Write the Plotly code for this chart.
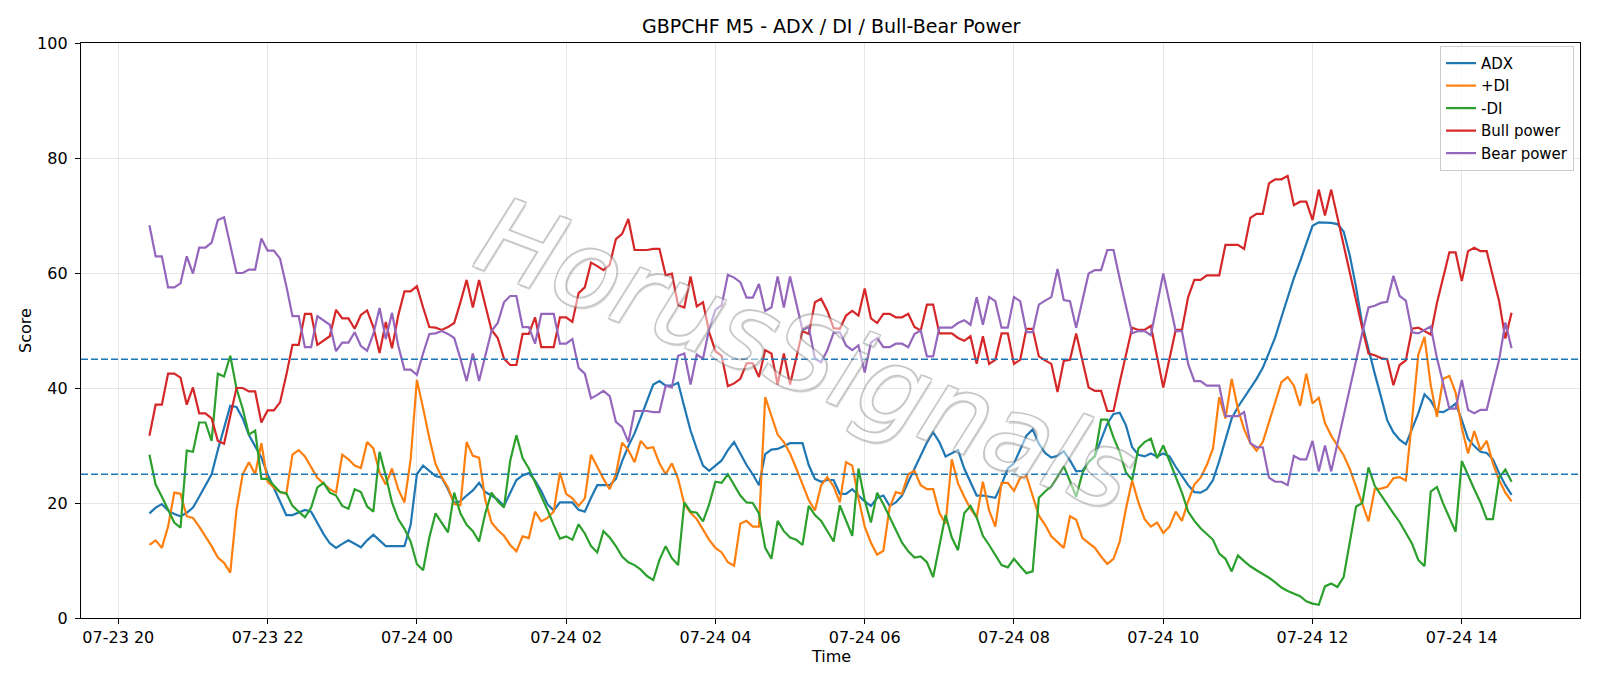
import pandas as pd
import plotly.graph_objects as go

# ---- data (5-minute bars, GBPCHF M5) ----
start_time = "2025-07-23 20:25"
n_bars = 220
times = pd.date_range(start_time, periods=n_bars, freq="5min")

adx = [
    18.2, 19.2, 19.8, 18.7, 18.1, 17.7, 18.3, 19.2, 21.1, 23.1,
    25.0, 29.2, 33.1, 36.9, 36.7, 34.7, 31.8, 29.9, 27.9, 25.0,
    22.7, 20.1, 17.9, 17.9, 18.3, 18.8, 18.5, 16.6, 14.6, 13.0,
    12.2, 12.9, 13.5, 12.9, 12.3, 13.5, 14.5, 13.5, 12.5, 12.5,
    12.5, 12.5, 16.2, 25.0, 26.5, 25.6, 24.7, 24.4, 22.4, 20.0,
    20.3, 21.3, 22.2, 23.5, 21.9, 21.3, 20.6, 19.5, 21.8, 24.0,
    24.8, 25.2, 23.9, 22.1, 19.8, 18.7, 20.1, 20.1, 20.1, 18.8,
    18.5, 20.9, 23.1, 23.1, 23.1, 24.2, 27.3, 29.9, 32.1, 34.9,
    37.8, 40.6, 41.2, 40.4, 40.4, 40.9, 36.7, 32.6, 29.4, 26.5,
    25.6, 26.5, 27.4, 29.2, 30.6, 28.6, 26.6, 25.0, 23.1, 28.5,
    29.3, 29.4, 29.9, 30.4, 30.4, 30.4, 26.6, 24.2, 23.7, 24.0,
    24.0, 21.6, 21.6, 22.4, 21.3, 20.3, 19.5, 20.9, 21.3, 19.5,
    20.1, 21.3, 23.7, 26.0, 28.4, 30.5, 32.3, 30.6, 28.1, 28.7,
    29.2, 26.0, 23.5, 21.3, 21.3, 21.1, 20.9, 23.2, 26.0, 26.9,
    29.4, 31.7, 32.8, 30.3, 28.7, 27.9, 28.2, 29.0, 27.4, 25.5,
    25.6, 27.1, 28.2, 31.0, 33.8, 35.5, 35.7, 33.5, 29.7, 28.4,
    28.1, 28.6, 28.1, 28.6, 28.1, 26.3, 24.7, 23.1, 21.9, 21.8,
    22.4, 24.0, 27.3, 30.8, 34.7, 36.7, 38.3, 39.9, 41.6, 43.5,
    46.0, 48.8, 52.3, 55.8, 59.1, 62.0, 65.3, 68.2, 68.8, 68.8,
    68.7, 68.5, 67.2, 63.0, 57.5, 51.0, 46.5, 42.5, 38.5, 34.4,
    32.3, 31.0, 30.2, 32.8, 35.6, 38.9, 37.8, 35.9, 35.8, 36.4,
    37.3, 34.4, 31.2, 29.9, 28.9, 28.7, 27.6, 25.2, 23.1, 21.4,
]

plus_di = [
    12.7, 13.5, 12.2, 15.9, 21.8, 21.6, 17.7, 17.4, 15.9, 14.3,
    12.5, 10.5, 9.6, 7.9, 18.8, 25.0, 27.1, 25.0, 30.4, 23.7,
    22.7, 21.9, 21.6, 28.4, 29.2, 28.1, 26.3, 24.4, 23.4, 22.4,
    21.8, 28.4, 27.6, 26.5, 26.1, 30.6, 29.5, 25.3, 23.2, 26.0,
    22.4, 20.1, 27.6, 41.4, 36.5, 31.3, 26.8, 24.5, 22.7, 19.8,
    19.6, 30.6, 28.2, 27.9, 20.5, 16.6, 15.3, 14.3, 12.7, 11.6,
    14.2, 13.9, 18.5, 16.8, 17.4, 18.5, 25.3, 21.6, 20.8, 19.5,
    20.8, 28.4, 26.3, 24.2, 22.4, 25.0, 30.5, 29.2, 27.1, 30.8,
    29.5, 29.7, 26.9, 25.0, 26.9, 24.2, 19.8, 18.3, 17.2, 15.5,
    13.6, 12.2, 11.4, 9.7, 9.1, 16.4, 16.9, 15.9, 15.9, 38.4,
    35.1, 31.9, 30.6, 28.6, 26.0, 23.4, 20.5, 18.7, 23.1, 24.5,
    22.9, 20.1, 27.1, 26.5, 20.8, 15.9, 13.1, 11.0, 11.7, 19.2,
    21.9, 21.6, 25.0, 25.6, 23.1, 22.4, 22.4, 18.3, 16.4, 27.6,
    23.4, 21.1, 19.0, 17.5, 23.7, 18.7, 15.9, 23.5, 23.5, 22.1,
    24.4, 24.7, 21.4, 17.8, 16.2, 14.2, 13.2, 12.2, 17.7, 17.1,
    13.9, 13.0, 12.2, 10.7, 9.4, 10.3, 13.3, 19.0, 23.9, 20.1,
    17.2, 15.9, 16.6, 14.8, 15.9, 18.5, 16.9, 20.3, 23.2, 24.4,
    26.6, 29.5, 38.4, 34.7, 41.6, 36.4, 32.8, 30.4, 29.1, 30.6,
    34.1, 37.7, 41.0, 41.9, 40.4, 36.9, 42.5, 37.3, 38.3, 33.9,
    31.7, 30.0, 28.3, 25.9, 22.9, 20.0, 16.8, 22.4, 22.5, 22.8,
    24.3, 24.5, 23.9, 34.5, 45.8, 48.9, 40.5, 35.0, 41.6, 42.1,
    39.2, 33.1, 28.6, 32.5, 29.2, 30.8, 26.9, 24.0, 21.8, 20.3,
]

minus_di = [
    28.4, 23.2, 21.1, 18.8, 16.6, 15.7, 29.1, 28.9, 34.0, 34.0,
    30.8, 42.5, 42.0, 45.6, 39.9, 36.4, 31.9, 32.6, 24.2, 24.2,
    23.1, 21.9, 21.7, 19.5, 18.5, 17.5, 19.2, 22.7, 23.5, 21.8,
    21.3, 19.5, 19.0, 22.4, 21.9, 19.4, 18.5, 28.9, 24.7, 20.1,
    17.2, 15.5, 13.3, 9.4, 8.3, 14.0, 18.2, 16.6, 14.9, 21.8,
    18.2, 16.2, 15.1, 13.3, 18.2, 21.8, 20.3, 19.2, 27.3, 31.8,
    27.8, 26.0, 23.7, 21.3, 18.8, 16.2, 13.8, 14.2, 13.6, 16.3,
    14.7, 12.5, 11.4, 15.1, 14.0, 12.5, 10.7, 9.7, 9.2, 8.4,
    7.3, 6.6, 10.1, 12.5, 10.4, 9.2, 20.1, 18.5, 18.3, 16.8,
    19.8, 23.7, 23.5, 25.0, 23.2, 21.3, 20.1, 20.0, 18.2, 12.2,
    10.3, 16.9, 15.1, 14.0, 13.6, 12.7, 19.5, 17.9, 16.9, 15.1,
    13.3, 19.6, 16.9, 14.3, 26.0, 20.5, 16.6, 21.8, 19.8, 17.5,
    15.1, 13.1, 11.6, 10.5, 10.7, 9.7, 7.1, 12.7, 17.9, 14.0,
    11.8, 18.2, 19.5, 17.5, 14.3, 12.7, 11.0, 9.2, 8.8, 10.3,
    9.0, 7.8, 8.1, 20.9, 22.0, 22.9, 24.6, 26.4, 23.8, 21.1,
    25.2, 27.2, 28.1, 34.5, 34.5, 31.4, 28.8, 25.3, 24.0, 29.5,
    30.6, 31.2, 27.8, 30.0, 27.3, 24.4, 21.8, 18.5, 16.9, 15.6,
    14.6, 13.6, 11.2, 10.3, 8.1, 10.9, 9.9, 9.0, 8.3, 7.7,
    7.0, 6.2, 5.3, 4.7, 4.2, 3.8, 2.9, 2.5, 2.3, 5.5,
    6.0, 5.4, 7.1, 13.5, 19.4, 20.0, 26.2, 23.0, 21.4, 19.6,
    18.2, 16.7, 14.9, 12.9, 10.1, 9.0, 22.0, 22.8, 19.9, 17.3,
    15.0, 27.3, 24.7, 22.4, 20.1, 17.2, 17.2, 24.4, 25.8, 23.7,
]

bull_power = [
    31.7, 37.1, 37.1, 42.5, 42.5, 41.8, 37.1, 40.1, 35.6, 35.6,
    34.7, 30.8, 30.3, 35.0, 40.0, 40.0, 39.4, 39.4, 34.0, 36.1,
    36.1, 37.5, 42.2, 47.5, 47.5, 52.9, 52.9, 47.5, 48.2, 49.0,
    53.6, 52.1, 52.1, 50.3, 52.7, 53.5, 50.6, 46.1, 51.5, 46.9,
    52.6, 56.8, 56.8, 57.7, 54.0, 50.6, 50.5, 50.1, 50.6, 51.3,
    54.9, 58.8, 54.0, 58.8, 54.4, 50.1, 48.7, 45.1, 44.0, 44.0,
    49.4, 49.4, 52.3, 47.1, 47.1, 47.1, 52.3, 52.3, 51.5, 56.5,
    57.5, 61.8, 61.2, 60.5, 61.4, 65.9, 66.8, 69.4, 64.0, 64.0,
    64.0, 64.2, 64.2, 59.6, 59.9, 54.4, 54.0, 59.4, 54.2, 54.9,
    49.7, 46.4, 45.6, 40.3, 40.8, 41.6, 44.3, 44.3, 41.9, 46.6,
    46.0, 40.6, 46.0, 40.6, 45.1, 49.9, 49.4, 54.9, 55.5, 53.4,
    50.4, 50.3, 52.6, 53.4, 52.6, 57.3, 52.1, 51.3, 52.9, 52.9,
    52.3, 52.3, 52.9, 50.6, 50.0, 54.5, 54.5, 49.5, 49.5, 49.5,
    48.7, 48.2, 49.0, 44.2, 49.0, 44.2, 44.9, 49.5, 49.5, 44.2,
    44.9, 50.3, 50.3, 45.5, 44.8, 44.2, 39.3, 44.7, 44.9, 49.5,
    44.8, 40.1, 39.5, 39.5, 36.0, 36.0, 41.0, 46.0, 50.5, 50.1,
    50.1, 50.8, 45.6, 40.1, 45.1, 50.1, 50.1, 55.8, 58.8, 58.8,
    59.6, 59.6, 59.6, 64.9, 64.9, 64.9, 64.2, 69.6, 70.3, 70.3,
    75.6, 76.3, 76.3, 76.9, 71.8, 72.4, 72.4, 69.2, 74.5, 70.0,
    74.5, 69.6, 64.9, 60.0, 55.1, 50.4, 46.0, 45.7, 45.2, 45.0,
    40.5, 44.0, 44.8, 50.3, 50.5, 49.9, 49.3, 54.8, 59.0, 63.6,
    63.6, 58.6, 63.8, 64.4, 63.8, 63.8, 59.4, 55.1, 48.6, 53.1,
]

bear_power = [
    68.3, 62.9, 62.9, 57.5, 57.5, 58.2, 62.9, 59.9, 64.4, 64.4,
    65.3, 69.2, 69.7, 65.0, 60.0, 60.0, 60.6, 60.6, 66.0, 63.9,
    63.9, 62.5, 57.8, 52.5, 52.5, 47.1, 47.1, 52.5, 51.8, 51.0,
    46.4, 47.9, 47.9, 49.7, 47.3, 46.5, 49.4, 53.9, 48.5, 53.1,
    47.4, 43.2, 43.2, 42.3, 46.0, 49.4, 49.5, 49.9, 49.4, 48.7,
    45.1, 41.2, 46.0, 41.2, 45.6, 49.9, 51.3, 54.9, 56.0, 56.0,
    50.6, 50.6, 47.7, 52.9, 52.9, 52.9, 47.7, 47.7, 48.5, 43.5,
    42.5, 38.2, 38.8, 39.5, 38.6, 34.1, 33.2, 30.6, 36.0, 36.0,
    36.0, 35.8, 35.8, 40.4, 40.1, 45.6, 46.0, 40.6, 45.8, 45.1,
    50.3, 53.6, 54.4, 59.7, 59.2, 58.4, 55.7, 55.7, 58.1, 53.4,
    54.0, 59.4, 54.0, 59.4, 54.9, 50.1, 50.6, 45.1, 44.5, 46.6,
    49.6, 49.7, 47.4, 46.6, 47.4, 42.7, 47.9, 48.7, 47.1, 47.1,
    47.7, 47.7, 47.1, 49.4, 50.0, 45.5, 45.5, 50.5, 50.5, 50.5,
    51.3, 51.8, 51.0, 55.8, 51.0, 55.8, 55.1, 50.5, 50.5, 55.8,
    55.1, 49.7, 49.7, 54.5, 55.2, 55.8, 60.7, 55.3, 55.1, 50.5,
    55.2, 59.9, 60.5, 60.5, 64.0, 64.0, 59.0, 54.0, 49.5, 49.9,
    49.9, 49.2, 54.4, 59.9, 54.9, 49.9, 49.9, 44.2, 41.2, 41.2,
    40.4, 40.4, 40.4, 35.1, 35.1, 35.1, 35.8, 30.4, 29.7, 29.7,
    24.4, 23.7, 23.7, 23.1, 28.2, 27.6, 27.6, 30.8, 25.5, 30.0,
    25.5, 30.4, 35.1, 40.0, 44.9, 49.6, 54.0, 54.3, 54.8, 55.0,
    59.5, 56.0, 55.2, 49.7, 49.5, 50.1, 50.7, 45.2, 41.0, 36.4,
    36.4, 41.4, 36.2, 35.6, 36.2, 36.2, 40.6, 44.9, 51.4, 46.9,
]

series_names = ["ADX", "+DI", "-DI", "Bull power", "Bear power"]
series_values = [adx, plus_di, minus_di, bull_power, bear_power]
series_colors = ["#1f77b4", "#ff7f0e", "#2ca02c", "#d62728", "#9467bd"]

threshold_levels = [25, 45]

title_text = "GBPCHF M5 - ADX / DI / Bull-Bear Power"
x_title = "Time"
y_title = "Score"
watermark_text = "HorusSignals"

FONT = "DejaVu Sans, Liberation Sans, sans-serif"

fig = go.Figure()
for name, vals, col in zip(series_names, series_values, series_colors):
    fig.add_trace(go.Scatter(
        x=times, y=vals, mode="lines", name=name,
        line=dict(color=col, width=2.2),
    ))

for lvl in threshold_levels:
    fig.add_shape(type="line", xref="paper", x0=0, x1=1, yref="y", y0=lvl, y1=lvl,
                  line=dict(color="#1f77b4", width=1.5, dash="7px,3px"), layer="above")

fig.update_layout(
    width=1600, height=686,
    margin=dict(l=81, r=20, t=43, b=68),
    paper_bgcolor="white", plot_bgcolor="white",
    font=dict(family=FONT, size=16, color="black"),
    title=dict(text=title_text, x=0.5195, xanchor="center", y=1 - 26 / 686,
               yanchor="middle", yref="container", font=dict(size=19, color="black")),
    showlegend=True,
    legend=dict(x=0.996, xanchor="right", y=0.995, yanchor="top",
                bgcolor="rgba(255,255,255,0.8)", bordercolor="#cccccc", borderwidth=1,
                font=dict(size=15), tracegroupgap=0, itemwidth=30),
)

fig.update_xaxes(
    type="date",
    range=["2025-07-23 19:30", "2025-07-24 15:35"],
    tick0="2025-07-23 20:00", dtick=2 * 3600 * 1000,
    tickformat="%m-%d %H",
    showgrid=True, gridcolor="#e6e6e6", gridwidth=1,
    showline=True, linecolor="black", linewidth=1.3, mirror=True,
    ticks="outside", ticklen=5, tickwidth=1.3, tickcolor="black",
    zeroline=False, tickfont=dict(size=16),
)
fig.update_yaxes(
    range=[0, 100], tick0=0, dtick=20,
    showgrid=True, gridcolor="#e6e6e6", gridwidth=1,
    showline=True, linecolor="black", linewidth=1.3, mirror=True,
    ticks="outside", ticklen=5, tickwidth=1.3, tickcolor="black",
    zeroline=False, tickfont=dict(size=16), ticklabelstandoff=4,
)

# axis titles
fig.add_annotation(text=x_title, xref="paper", yref="paper", x=0.5, y=-(657 - 618.4) / 575.5,
                   xanchor="center", yanchor="middle", showarrow=False, font=dict(size=16))
fig.add_annotation(text=y_title, xref="paper", yref="paper", x=(25.5 - 81) / 1499, y=0.5,
                   xanchor="center", yanchor="middle", textangle=-90, showarrow=False,
                   font=dict(size=16))

# watermark: white-filled italic text with a soft grey outline, semi-transparent
outline = "rgba(140,140,140,0.9)"
fig.add_annotation(
    text=watermark_text, xref="paper", yref="paper",
    x=(806 - 81) / 1499, y=(618.4 - 355) / 575.5, xanchor="center", yanchor="middle",
    textangle=21, showarrow=False, opacity=0.5,
    font=dict(family=FONT, size=106, style="italic", color="white",
              shadow=(f"2px 2px 1px {outline}, -1.5px -1.5px 0 {outline}, "
                      f"1.5px -1.5px 0 {outline}, -1.5px 1.5px 0 {outline}")),
)

fig.write_html("out.html")
